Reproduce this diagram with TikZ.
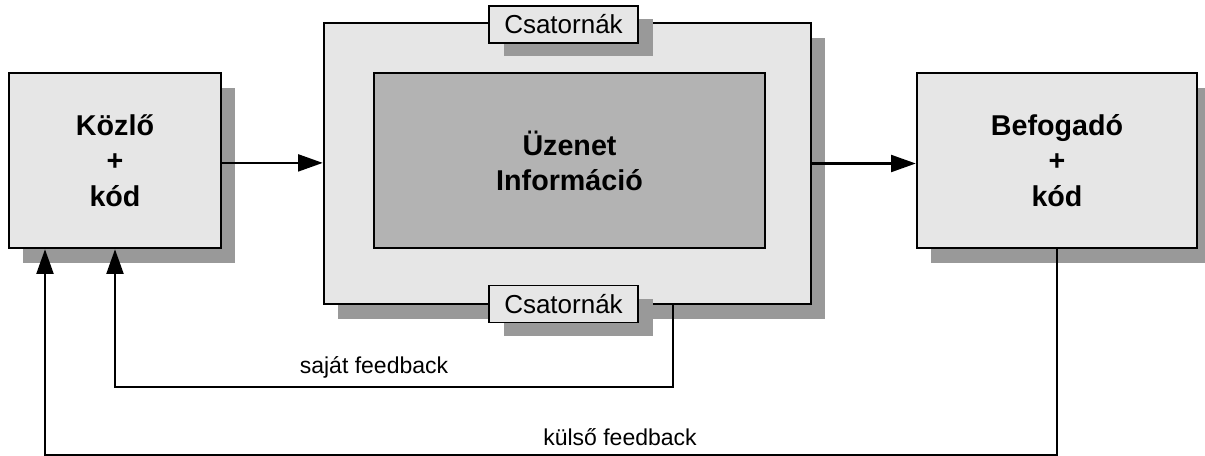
\documentclass[tikz,border=0pt]{standalone}
\usepackage{fontspec}
\setmainfont{Liberation Sans}
\usetikzlibrary{arrows.meta,shadows}

\definecolor{boxfill}{HTML}{E6E6E6}
\definecolor{corefill}{HTML}{B3B3B3}
\definecolor{shadowgray}{HTML}{999999}

\tikzset{
  shade box/.style={drop shadow={shadow xshift=10.5pt, shadow yshift=-11.25pt,
                    fill=shadowgray, opacity=1}},
  block/.style={draw=black, line width=1.9pt, fill=boxfill, inner sep=0pt,
                align=center, minimum height=131.25pt,
                font=\fontsize{21.5}{26.8}\selectfont\bfseries, shade box},
  chanbox/.style={draw=black, line width=1.9pt, fill=boxfill, inner sep=0pt,
                  minimum width=365.25pt, minimum height=210.75pt, shade box},
  corebox/.style={draw=black, line width=1.9pt, fill=corefill, inner sep=0pt,
                  align=center, minimum width=293.25pt, minimum height=131.25pt,
                  font=\fontsize{21.5}{26.3}\selectfont\bfseries},
  tagbox/.style={draw=black, line width=0.9pt, fill=boxfill, inner sep=0pt,
                 minimum width=111.75pt, minimum height=27.75pt,
                 font=\fontsize{19.5}{22}\selectfont,
                 drop shadow={shadow xshift=11pt, shadow yshift=-10pt,
                              fill=shadowgray, opacity=1}},
  flow/.style={line width=1.6pt, -{Triangle[length=18.5pt, width=12.75pt]}},
  loopline/.style={line width=1.6pt, -{Triangle[length=18.5pt, width=12.75pt]}},
  loopnote/.style={font=\fontsize{17.25}{20}\selectfont, inner sep=0pt},
}

\begin{document}
\begin{tikzpicture}[x=0.75pt, y=-0.75pt]
  \useasboundingbox (0,0) rectangle (1205,456);

  % channel frame with the message inside
  \node[chanbox] (outer) at (567.5,163.5) {};
  \node[corebox] (core) at (569.5,160.5) {Üzenet\\Információ};
  \node[tagbox] (chantop) at (563.5,24.5) {Csatornák};
  \node[tagbox] (chanbot) at (563.5,304) {Csatornák};

  % sender and receiver
  \node[block, minimum width=159pt] (kozlo) at (115,160.5) {Közlő\\+\\kód};
  \node[block, minimum width=210pt] (befog) at (1057,160.5) {Befogadó\\+\\kód};

  % forward flow
  \draw[flow] ([yshift=-1.8pt]kozlo.east) -- ([yshift=-1.8pt]kozlo.east -| outer.west);
  \draw[flow] (outer.east) -- (outer.east -| befog.west);

  % own feedback loop
  \draw[loopline] ([xshift=79.1pt]outer.south) -- ++(0,-61.5pt) -| (kozlo.south);
  \node[loopnote] (ownfb) at (374,367) {saját feedback};

  % external feedback loop
  \draw[loopline] (befog.south) -- ++(0,-154.5pt) -| ([xshift=-52.5pt]kozlo.south);
  \node[loopnote] (extfb) at (620,437) {külső feedback};
\end{tikzpicture}
\end{document}
